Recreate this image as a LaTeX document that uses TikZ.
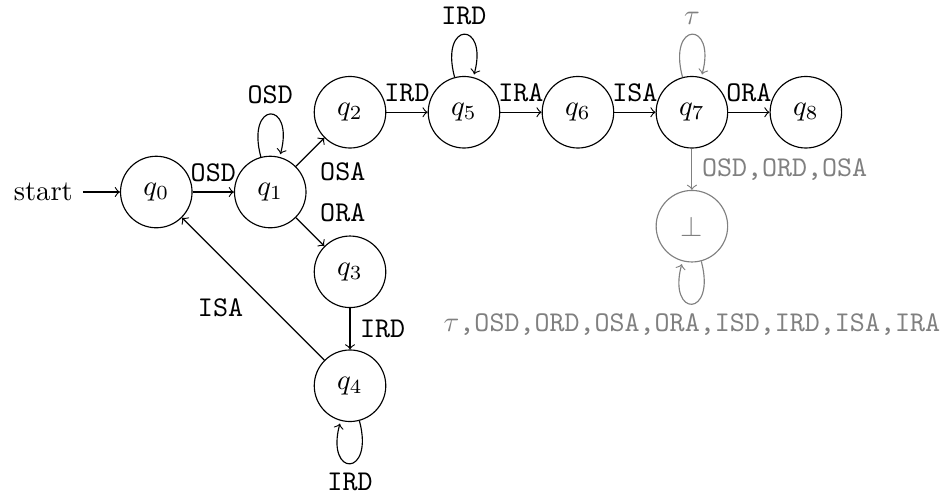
\documentclass[tikz,border=0pt]{standalone}
\usetikzlibrary{automata,positioning}
\begin{document}
\begin{tikzpicture}[->, node distance=1.4cm, on grid, auto]
\useasboundingbox (-1.92,-3.784) rectangle (9.677,2.359);

% Estados
\node[state, initial] (q0) {$q_0$};
\node[state, right=of q0] (q1) {$q_1$};
\node[state, above right=0.98cm and 0.98cm of q1] (q2) {$q_2$};
\node[state, below right=0.98cm and 0.98cm of q1] (q3) {$q_3$};
\node[state, below=of q3] (q4) {$q_4$};
\node[state, right=of q2] (q5) {$q_5$};
\node[state, right=of q5] (q6) {$q_6$};
\node[state, right=of q6] (q7) {$q_7$};
\node[state, right=of q7] (q8) {$q_8$};
\node[state, gray, below=of q7] (bot) {$\bot$};

% Transiciones
\path	(q0) edge node {\texttt{OSD}} (q1)
	(q1) edge[loop above] node {\texttt{OSD}} ()
	(q1) edge node[swap] {\texttt{OSA}} (q2)
	(q1) edge node {\texttt{ORA}} (q3)
	(q3) edge node {\texttt{IRD}} (q4)
	(q4) edge[loop below] node {\texttt{IRD}} ()
	(q4) edge node {\texttt{ISA}} (q0)
	(q2) edge node {\texttt{IRD}} (q5)
	(q5) edge[loop above] node {\texttt{IRD}} ()
	(q5) edge node {\texttt{IRA}} (q6)
	(q6) edge node {\texttt{ISA}} (q7)
	(q7) edge node {\texttt{ORA}} (q8);

% Estado de error
\path[gray]	(q7) edge[loop above] node {$\tau$} ()
	(q7) edge node {\texttt{OSD,ORD,OSA}} (bot)
	(bot) edge[loop below] node {$\tau$\texttt{,OSD,ORD,OSA,ORA,ISD,IRD,ISA,IRA}} ();
\end{tikzpicture}
\end{document}
